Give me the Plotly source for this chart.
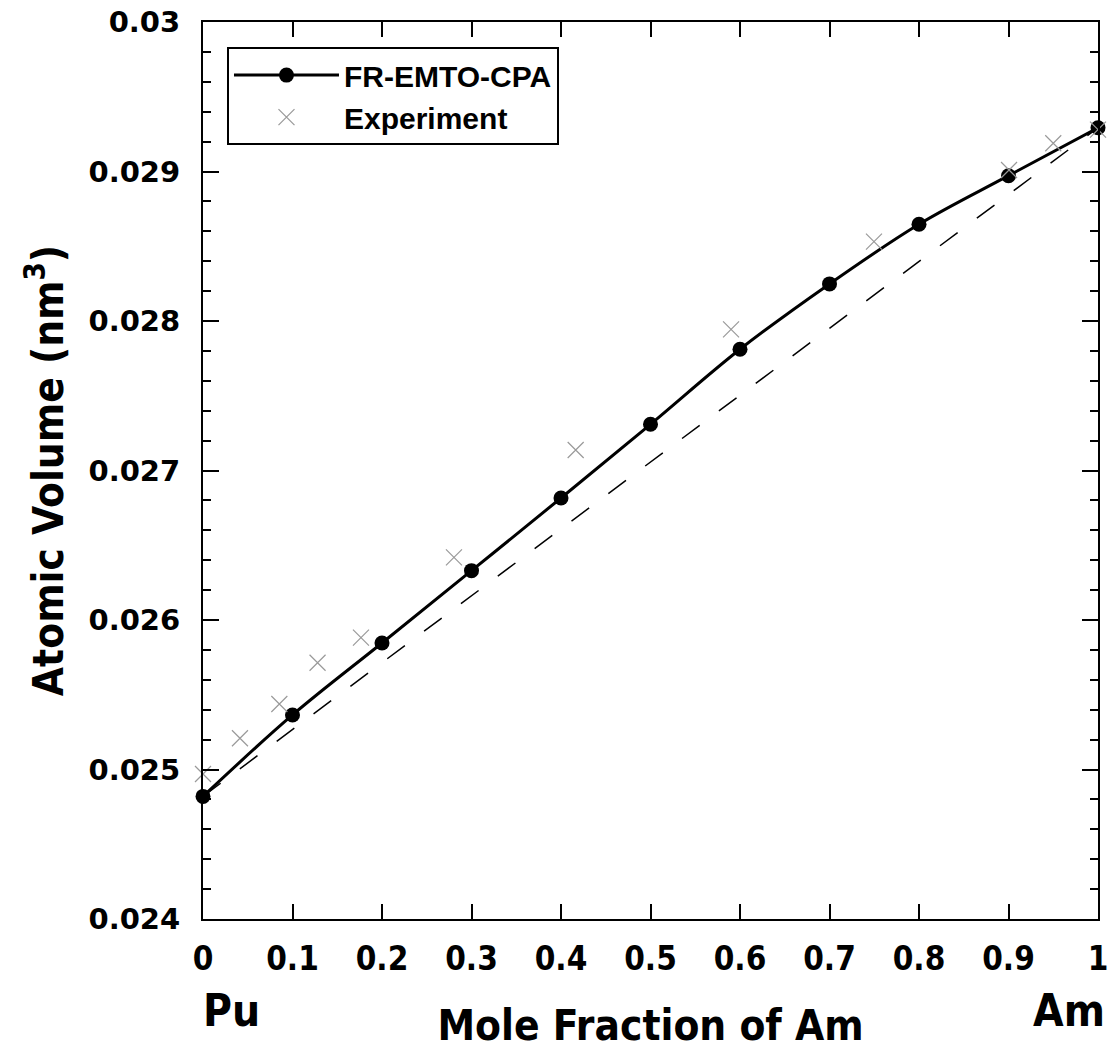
import plotly.graph_objects as go

# Calculated (FR-EMTO-CPA)
calc_x = [0.0, 0.1, 0.2, 0.3, 0.4, 0.5, 0.6, 0.7, 0.8, 0.9, 1.0]
calc_y = [0.02482, 0.025365, 0.025846, 0.02633, 0.026816, 0.027309,
          0.027811, 0.028248, 0.028647, 0.028972, 0.029293]

# Experiment
exp_x = [0.0, 0.0413, 0.0853, 0.128, 0.1765, 0.2804, 0.4164, 0.59, 0.7497, 0.9006, 0.950, 1.0]
exp_y = [0.02497, 0.025209, 0.025438, 0.025714, 0.025882, 0.026419, 0.027137,
         0.027944, 0.028531, 0.02901, 0.029189, 0.02928]

# Vegard's law (linear) reference
veg_x = [0.0, 1.0]
veg_y = [0.02482, 0.029293]

x_ticks = [0, 0.1, 0.2, 0.3, 0.4, 0.5, 0.6, 0.7, 0.8, 0.9, 1.0]
x_ticktext = ["0", "0.1", "0.2", "0.3", "0.4", "0.5", "0.6", "0.7", "0.8", "0.9", "1"]
y_ticks = [0.024, 0.025, 0.026, 0.027, 0.028, 0.029, 0.030]
y_ticktext = ["0.024", "0.025", "0.026", "0.027", "0.028", "0.029", "0.03"]

NARROW = "DejaVu Sans Condensed, Liberation Sans Narrow, sans-serif"

fig = go.Figure()
fig.add_trace(go.Scatter(
    x=veg_x, y=veg_y, mode="lines", showlegend=False, cliponaxis=False,
    line=dict(color="black", width=1.5, dash="22px,24px"), hoverinfo="skip"))
fig.add_trace(go.Scatter(
    x=calc_x, y=calc_y, mode="lines+markers", name="FR-EMTO-CPA", cliponaxis=False,
    line=dict(color="black", width=3, shape="spline", smoothing=1.0),
    marker=dict(symbol="circle", size=15, color="black")))
fig.add_trace(go.Scatter(
    x=exp_x, y=exp_y, mode="markers", name="Experiment", cliponaxis=False,
    marker=dict(symbol="x-thin-open", size=16, color="#999999",
                line=dict(color="#999999", width=1.2))))

fig.update_layout(
    width=1109, height=1047,
    margin=dict(l=195, r=19, t=14, b=136),
    paper_bgcolor="white", plot_bgcolor="white",
    showlegend=True,
    legend=dict(
        x=0.0268, y=0.972, xanchor="left", yanchor="top",
        bordercolor="black", borderwidth=2, bgcolor="white",
        font=dict(family="Liberation Sans, Arial, sans-serif", size=30, color="black", weight="bold"),
        itemwidth=105, tracegroupgap=0),
    annotations=[
        dict(text="Pu", x=0.0, y=0, xref="paper", yref="paper", xanchor="left", yanchor="top",
             yshift=-64, xshift=-2, showarrow=False,
             font=dict(family=NARROW, size=44, color="black", weight="bold")),
        dict(text="Am", x=1.0, y=0, xref="paper", yref="paper", xanchor="right", yanchor="top",
             yshift=-64, xshift=9, showarrow=False,
             font=dict(family=NARROW, size=44, color="black", weight="bold")),
    ],
)

fig.update_xaxes(
    range=[0, 1], tickvals=x_ticks, ticktext=x_ticktext,
    showgrid=False, zeroline=False, automargin=False,
    showline=True, linecolor="black", linewidth=2, mirror="ticks",
    ticks="inside", ticklen=15, tickwidth=1.5, tickcolor="black",
    ticklabelstandoff=9, ticklabeloverflow="allow",
    tickfont=dict(family=NARROW, size=33, color="black", weight="bold"),
    title=dict(text="Mole Fraction of Am", standoff=34,
               font=dict(family=NARROW, size=42, color="black", weight="bold")))

fig.update_yaxes(
    range=[0.024, 0.030], tickvals=y_ticks, ticktext=y_ticktext,
    showgrid=False, zeroline=False, automargin=False,
    showline=True, linecolor="black", linewidth=2, mirror="ticks",
    ticks="inside", ticklen=16, tickwidth=1.5, tickcolor="black",
    ticklabelstandoff=15, ticklabeloverflow="allow",
    minor=dict(dtick=0.0002, ticks="inside", ticklen=8, tickwidth=1.5, tickcolor="black", showgrid=False),
    tickfont=dict(family="DejaVu Sans, Verdana, sans-serif", size=29, color="black", weight="bold"),
    title=dict(text="Atomic Volume (nm<sup>3</sup>)", standoff=12,
               font=dict(family=NARROW, size=42, color="black", weight="bold")))

fig.write_html("out.html")
